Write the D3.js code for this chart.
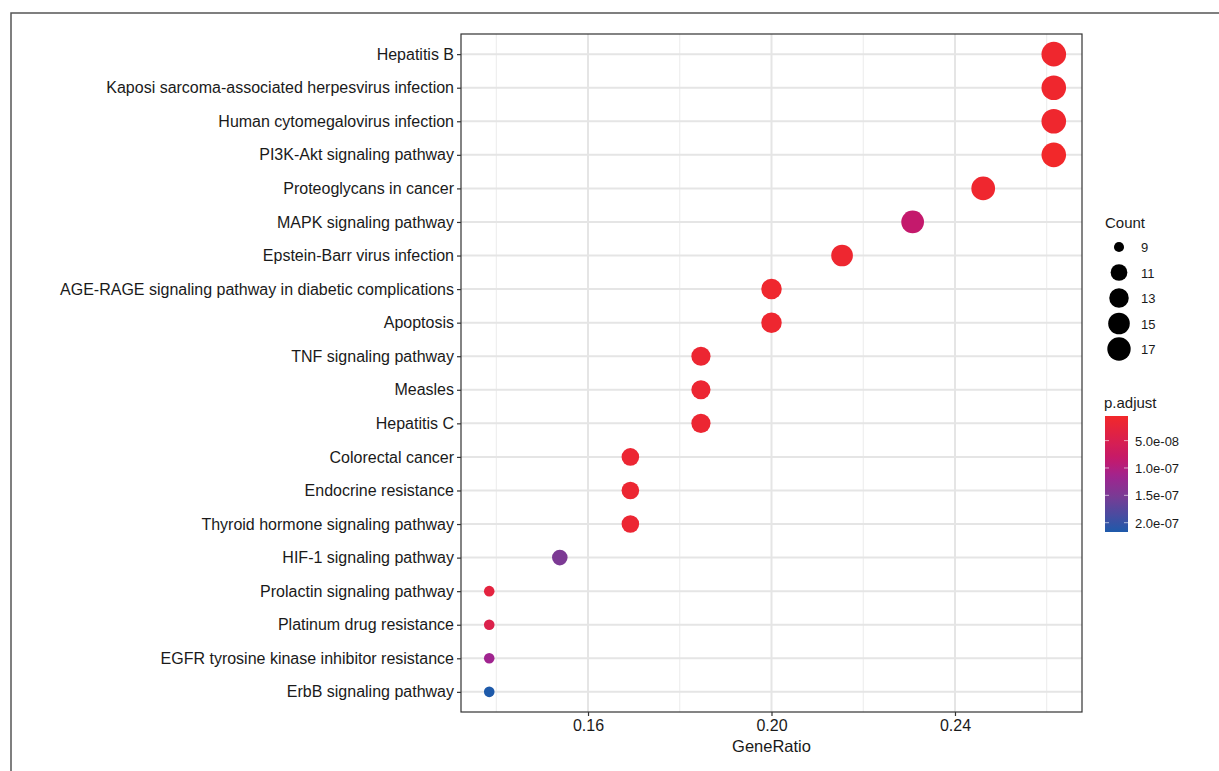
<!DOCTYPE html>
<html>
<head>
<meta charset="utf-8">
<script src="https://cdn.jsdelivr.net/npm/d3@7"></script>
<style>
  body { margin: 0; background: #fff; }
  svg { display: block; font-family: "Liberation Sans", Arial, sans-serif; }
</style>
</head>
<body>
<svg id="chart" width="1219" height="771"></svg>
<script>
// pathway terms, top to bottom
const terms = [
  "Hepatitis B",
  "Kaposi sarcoma-associated herpesvirus infection",
  "Human cytomegalovirus infection",
  "PI3K-Akt signaling pathway",
  "Proteoglycans in cancer",
  "MAPK signaling pathway",
  "Epstein-Barr virus infection",
  "AGE-RAGE signaling pathway in diabetic complications",
  "Apoptosis",
  "TNF signaling pathway",
  "Measles",
  "Hepatitis C",
  "Colorectal cancer",
  "Endocrine resistance",
  "Thyroid hormone signaling pathway",
  "HIF-1 signaling pathway",
  "Prolactin signaling pathway",
  "Platinum drug resistance",
  "EGFR tyrosine kinase inhibitor resistance",
  "ErbB signaling pathway"
];
const counts = [17, 17, 17, 17, 16, 15, 14, 13, 13, 12, 12, 12, 11, 11, 11, 10, 9, 9, 9, 9];
const geneTotal = 65;
const padj = [1.0e-8, 1.0e-8, 1.0e-8, 5e-9, 1.1e-8, 8.5e-8, 1.2e-8, 1.0e-8, 1.2e-8, 1.5e-8,
  1.5e-8, 1.5e-8, 1.6e-8, 1.5e-8, 1.6e-8, 1.5e-7, 3.0e-8, 4.5e-8, 1.15e-7, 2.17e-7];

const xTicks = [0.16, 0.20, 0.24];
const xMinor = [0.14, 0.18, 0.22, 0.26];
const sizeBreaks = [9, 11, 13, 15, 17];
const colorBreaks = [5e-8, 1e-7, 1.5e-7, 2e-7];

const data = terms.map((t, i) => ({ term: t, count: counts[i], ratio: counts[i] / geneTotal, p: padj[i] }));

const svg = d3.select("#chart");
const panel = { left: 461, right: 1082, top: 34, bottom: 712 };
const FONT = "Liberation Sans, Arial, sans-serif";

// outer frame
svg.append("rect")
  .attr("x", 11).attr("y", 13).attr("width", 1240).attr("height", 800)
  .attr("fill", "none").attr("stroke", "#555").attr("stroke-width", 1.5);

const rMin = d3.min(data, d => d.ratio), rMax = d3.max(data, d => d.ratio);
const pad = (rMax - rMin) * 0.05;
const x = d3.scaleLinear().domain([rMin - pad, rMax + pad]).range([panel.left, panel.right]);
const y = d3.scalePoint().domain(terms).range([panel.top, panel.bottom]).padding(0.6);

const cMin = d3.min(counts), cMax = d3.max(counts);
const sizeT = d3.scaleLinear().domain([cMin, cMax]).range([0, 1]);
const sizeR = d3.scaleLinear().domain([0, 1]).range([5.3, 12.3]);
const radius = c => sizeR(Math.sqrt(sizeT(c)));

const pMin = d3.min(padj), pMax = d3.max(padj);
const color = d3.scaleLinear()
  .domain([pMin, 8.5e-8, 1.15e-7, 1.5e-7, pMax])
  .range(["#F2282A", "#C4196C", "#A0248F", "#7C3A94", "#1E5AAA"]);

// grid
const grid = svg.append("g");
grid.selectAll("line.minor").data(xMinor.filter(v => x(v) > panel.left && x(v) < panel.right))
  .join("line").attr("x1", d => x(d)).attr("x2", d => x(d))
  .attr("y1", panel.top).attr("y2", panel.bottom)
  .attr("stroke", "#EBEBEB").attr("stroke-width", 1);
grid.selectAll("line.vmaj").data(xTicks)
  .join("line").attr("x1", d => x(d)).attr("x2", d => x(d))
  .attr("y1", panel.top).attr("y2", panel.bottom)
  .attr("stroke", "#E5E5E5").attr("stroke-width", 2);
grid.selectAll("line.hmaj").data(terms)
  .join("line").attr("x1", panel.left).attr("x2", panel.right)
  .attr("y1", d => y(d)).attr("y2", d => y(d))
  .attr("stroke", "#E5E5E5").attr("stroke-width", 2);

// points
svg.append("g").selectAll("circle").data(data).join("circle")
  .attr("cx", d => x(d.ratio)).attr("cy", d => y(d.term))
  .attr("r", d => radius(d.count))
  .attr("fill", d => color(d.p));

// panel border
svg.append("rect")
  .attr("x", panel.left).attr("y", panel.top)
  .attr("width", panel.right - panel.left).attr("height", panel.bottom - panel.top)
  .attr("fill", "none").attr("stroke", "#333").attr("stroke-width", 1.2);

// axes
const gx = svg.append("g").attr("transform", `translate(0,${panel.bottom})`)
  .call(d3.axisBottom(x).tickValues(xTicks).tickFormat(d3.format(".2f")).tickSize(4).tickPadding(4));
gx.select(".domain").remove();
gx.attr("font-size", 16).attr("font-family", FONT);
gx.selectAll("line").attr("stroke", "#333").attr("stroke-width", 1.2);
gx.selectAll("text").attr("fill", "#1a1a1a");

const gy = svg.append("g").attr("transform", `translate(${panel.left},0)`)
  .call(d3.axisLeft(y).tickSize(4).tickPadding(3));
gy.select(".domain").remove();
gy.attr("font-size", 16).attr("font-family", FONT);
gy.selectAll("line").attr("stroke", "#333").attr("stroke-width", 1.2);
gy.selectAll("text").attr("fill", "#1a1a1a");

svg.append("text").attr("x", (panel.left + panel.right) / 2).attr("y", 752)
  .attr("text-anchor", "middle").attr("font-size", 16.5).attr("fill", "#1a1a1a")
  .text("GeneRatio");

// size legend
const sl = svg.append("g");
sl.append("text").attr("x", 1105).attr("y", 228).attr("font-size", 15).attr("fill", "#1a1a1a").text("Count");
const slY = d3.scalePoint().domain(sizeBreaks).range([247, 349]);
const slRows = sl.selectAll("g.row").data(sizeBreaks).join("g")
  .attr("transform", d => `translate(0,${slY(d)})`);
slRows.append("circle").attr("cx", 1119).attr("cy", 0).attr("r", d => radius(d) * 0.95).attr("fill", "#000");
slRows.append("text").attr("x", 1141).attr("y", 5).attr("font-size", 13).attr("fill", "#1a1a1a").text(d => d);

// colour legend
const cl = svg.append("g");
cl.append("text").attr("x", 1104).attr("y", 408).attr("font-size", 15).attr("fill", "#1a1a1a").text("p.adjust");
const barTop = 416, barBottom = 532, barX = 1105, barW = 23;
const cy = d3.scaleLinear().domain([pMin, pMax]).range([barTop, barBottom]);
const defs = svg.append("defs");
const grad = defs.append("linearGradient").attr("id", "pgrad")
  .attr("x1", 0).attr("y1", 0).attr("x2", 0).attr("y2", 1);
d3.range(0, 1.0001, 0.05).forEach(t => {
  grad.append("stop").attr("offset", t).attr("stop-color", color(pMin + t * (pMax - pMin)));
});
cl.append("rect").attr("x", barX).attr("y", barTop).attr("width", barW).attr("height", barBottom - barTop)
  .attr("fill", "url(#pgrad)");
const fmtP = v => v.toExponential(1).replace(/e([+-])(\d)$/, "e$10$2");
colorBreaks.forEach(v => {
  const yy = cy(v);
  cl.append("line").attr("x1", barX).attr("x2", barX + 4).attr("y1", yy).attr("y2", yy)
    .attr("stroke", "#fff").attr("stroke-opacity", 0.6);
  cl.append("line").attr("x1", barX + barW - 4).attr("x2", barX + barW).attr("y1", yy).attr("y2", yy)
    .attr("stroke", "#fff").attr("stroke-opacity", 0.6);
  cl.append("text").attr("x", 1135).attr("y", yy + 5).attr("font-size", 13).attr("fill", "#1a1a1a").text(fmtP(v));
});
</script>
</body>
</html>
